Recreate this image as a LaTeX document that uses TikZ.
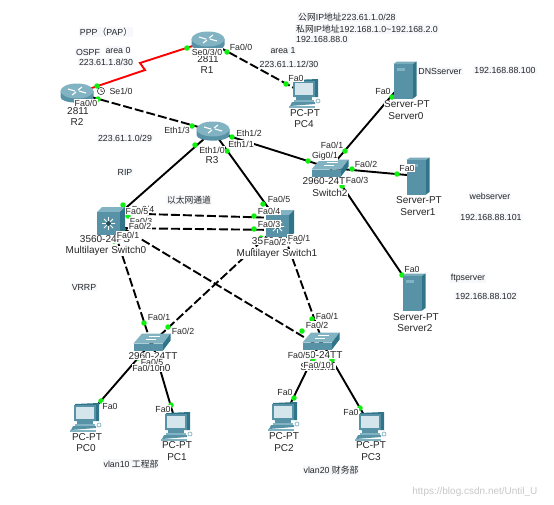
\documentclass[tikz,border=0pt]{standalone}
\usepackage{fontspec}
\setmainfont{Liberation Sans}
\newfontfamily\cjk{Noto Sans CJK SC}
\definecolor{tealA}{HTML}{5892A6}
\definecolor{tealB}{HTML}{2F7488}
\definecolor{tealC}{HTML}{82B3C2}
\definecolor{screenC}{HTML}{D5E5EC}
\definecolor{noteBg}{HTML}{F6F8FC}
\definecolor{portG}{HTML}{10F010}
\tikzset{
  link/.style={draw=black,line width=1.9pt},
  dashlink/.style={draw=black,line width=1.9pt,dash pattern=on 9pt off 3pt},
  redlink/.style={draw=red,line width=1.9pt},
  portdot/.style={circle,fill=portG,minimum size=5.5pt,inner sep=0pt},
  portlabel/.style={font=\fontsize{8.8}{9}\selectfont,fill=white,inner sep=0.5pt,text=black!85},
  devlabel/.style={font=\fontsize{10}{11}\selectfont,inner sep=0.3pt,fill=white,text=black!85},
  note/.style={font=\fontsize{8.8}{10}\selectfont,fill=noteBg,inner sep=1pt,text=black!85},
  router/.pic={
    \fill[tealA] (-16.5,-2) -- (-16.5,4) .. controls (-16.5,11.5) and (16.5,11.5) .. (16.5,4) -- (16.5,-2) -- cycle;
    \fill[tealC] (0,-2) ellipse (16.5 and 7.5);
    \draw[white,line width=1.1pt] (-9,-4) -- (-2,-2) (9,0) -- (2,-2) (-5,2) -- (-1,-1) (5,-6) -- (1,-3);
  },
  switchicon/.pic={
    \fill[tealC] (-18.5,1.5) -- (-10,-8.5) -- (18.5,-8.5) -- (11,1.5) -- cycle;
    \fill[tealA] (-18.5,1.5) rectangle (11,8.5);
    \fill[tealB] (11,1.5) -- (18.5,-8.5) -- (18.5,-1.5) -- (11,8.5) -- cycle;
    \draw[white,line width=0.6pt] (-6,-3) -- (4,-3) (-3,-5.5) -- (8,-5.5);
  },
  mlswitch/.pic={
    \fill[tealC] (-14,-9) -- (-9,-14) -- (14,-14) -- (9,-9) -- cycle;
    \fill[tealA] (-14,-9) rectangle (9,14);
    \fill[tealB] (9,-9) -- (14,-14) -- (14,9) -- (9,14) -- cycle;
    \draw[white,line width=0.8pt] (-9,2.5) -- (4,2.5) (-2.5,-4) -- (-2.5,9) (-7,-2) -- (2,7) (-7,7) -- (2,-2);
    \fill[tealB!70!black] (-2.5,2.5) circle (2.4);
  },
  pcicon/.pic={
    \fill[tealB] (-11,-14) -- (13,-15) -- (13,3) -- (-11,3) -- cycle;
    \fill[tealA] (-12,-13) rectangle (10,3);
    \fill[screenC] (-10,-11) rectangle (8,1);
    \fill[tealA] (-9,3) rectangle (7,6);
    \fill[tealC] (-11,6) -- (9,6) -- (9,8) -- (-11,8) -- cycle;
    \fill[tealA] (-13,8) -- (10,8) -- (10,10) -- (-15,12) -- cycle;
    \fill[tealC] (-16,12) -- (10,12) -- (10,13.5) -- (-16,13.5) -- cycle;
    \draw[tealC,line width=0.7pt] (13,7) circle (2);
  },
  servericon/.pic={
    \fill[tealC!80!tealA] (-11.5,-16) -- (-8,-18.5) -- (11.5,-18.5) -- (8,-16) -- cycle;
    \fill[tealA] (-11.5,-16) rectangle (8,18.5);
    \fill[tealB] (8,-16) -- (11.5,-18.5) -- (11.5,16) -- (8,18.5) -- cycle;
    \fill[tealC] (-8,-12) rectangle (0,-9);
  },
}
\begin{document}
\begin{tikzpicture}[x=1pt,y=-1pt]
\useasboundingbox (0,0) rectangle (554,504);
% device anchors
\coordinate (R1) at (208,41);
\coordinate (R2) at (77,93);
\coordinate (R3) at (213,131);
\coordinate (PC4) at (305,94);
\coordinate (Sw2) at (330,168);
\coordinate (Srv0) at (405,80);
\coordinate (Srv1) at (418,176);
\coordinate (Srv2) at (414,292);
\coordinate (MS0) at (111,221);
\coordinate (MS1) at (280,224);
\coordinate (Sw0) at (152,342);
\coordinate (Sw1) at (321,341);
\coordinate (PC0) at (86,418);
\coordinate (PC1) at (177,427);
\coordinate (PC2) at (284,417);
\coordinate (PC3) at (371,427);
\coordinate (kinkA) at (140,63);
\coordinate (kinkB) at (145,70);
\coordinate (MS0a) at (111,213);
\coordinate (MS1a) at (280,218);
\coordinate (MS0b) at (111,228);
\coordinate (MS1b) at (280,230);
\coordinate (Sw0a) at (150,340);
\coordinate (Sw0b) at (155,340);
\coordinate (Sw1a) at (317,345);
\coordinate (Sw1b) at (322,340);
% connectors
\draw[redlink] (R1) -- (kinkA) -- (kinkB) -- (R2);
\draw[dashlink] (R1) -- (PC4);
\draw[dashlink] (R2) -- (R3);
\draw[link] (R3) -- (Sw2);
\draw[link] (R3) -- (MS0);
\draw[link] (R3) -- (MS1);
\draw[link] (Sw2) -- (Srv0);
\draw[link] (Sw2) -- (Srv1);
\draw[link] (Sw2) -- (Srv2);
\draw[dashlink] (MS0a) -- (MS1a);
\draw[dashlink] (MS0b) -- (MS1b);
\draw[dashlink] (MS0) -- (Sw0a);
\draw[dashlink] (MS0) -- (Sw1a);
\draw[dashlink] (MS1) -- (Sw0b);
\draw[dashlink] (MS1) -- (Sw1b);
\draw[link] (Sw0) -- (PC0);
\draw[link] (Sw0) -- (PC1);
\draw[link] (Sw1) -- (PC2);
\draw[link] (Sw1) -- (PC3);
% port lights
\foreach \i/\x/\y in {1/187/48,2/97/86,3/227/52,4/286/84,5/98/99,6/192/126,7/232/137,8/308/161,
  9/195/145,10/123/205,11/227/151,12/263/204,13/345/151,14/392/97,15/352/169,16/397/174,
  17/342/186,18/402/275,19/128/216,20/254/216,21/123/229,22/254/229,23/114/241,24/144/323,
  25/261/238,26/168/327,27/302/331,28/312/319,29/138/358,30/101/401,31/171/405,32/313/359,
  33/294/398,34/332/360,35/360/408}
  \node[portdot] (p\i) at (\x,\y) {};
% devices
\pic at (R1) {router};
\pic at (R2) {router};
\pic at (R3) {router};
\pic at (Sw2) {switchicon};
\pic at (Sw0) {switchicon};
\pic at (Sw1) {switchicon};
\pic at (MS0) {mlswitch};
\pic at (MS1) {mlswitch};
\pic at (PC4) {pcicon};
\pic at (PC0) {pcicon};
\pic at (PC1) {pcicon};
\pic at (PC2) {pcicon};
\pic at (PC3) {pcicon};
\pic at (Srv0) {servericon};
\pic at (Srv1) {servericon};
\pic at (Srv2) {servericon};
% clock
\draw[black!80,line width=0.6pt,fill=white] (101,91) circle (3.6);
\draw[black!80,line width=0.6pt] (101,88.8) -- (101,91) -- (102.8,91.8);
% device names
\node[devlabel] (nR1a) at (208,59) {2811};
\node[devlabel] (nR1) at (207,70) {R1};
\node[devlabel] (nR2a) at (78,111) {2811};
\node[devlabel] (nR2) at (77,122) {R2};
\node[devlabel] (nR3) at (212,160) {R3};
\node[devlabel] (nPC4a) at (305,113) {PC-PT};
\node[devlabel] (nPC4) at (304,124) {PC4};
\node[devlabel] (nSw2a) at (327,181) {2960-24TT};
\node[devlabel] (nSw2) at (330,193) {Switch2};
\node[devlabel] (nS0a) at (407,104) {Server-PT};
\node[devlabel] (nS0) at (406,116) {Server0};
\node[devlabel] (nS1a) at (419,200) {Server-PT};
\node[devlabel] (nS1) at (418,212) {Server1};
\node[devlabel] (nS2a) at (416,317) {Server-PT};
\node[devlabel] (nS2) at (415,328) {Server2};
\node[devlabel] (nM0a) at (105,239) {3560-24PS};
\node[devlabel] (nM0) at (106,251) {Multilayer Switch0};
\node[devlabel] (nM1a) at (277,241) {3560-24PS};
\node[devlabel] (nM1) at (277,254) {Multilayer Switch1};
\node[devlabel] (nW0a) at (153,356) {2960-24TT};
\node[devlabel] (nW0) at (153,368) {Switch0};
\node[devlabel] (nW1a) at (318,355) {2960-24TT};
\node[devlabel] (nW1) at (318,367) {Switch1};
\node[devlabel] (nP0a) at (87,437) {PC-PT};
\node[devlabel] (nP0) at (86,448) {PC0};
\node[devlabel] (nP1a) at (177,445) {PC-PT};
\node[devlabel] (nP1) at (177,457) {PC1};
\node[devlabel] (nP2a) at (284,436) {PC-PT};
\node[devlabel] (nP2) at (284,448) {PC2};
\node[devlabel] (nP3a) at (371,445) {PC-PT};
\node[devlabel] (nP3) at (371,457) {PC3};
% port labels
\node[portlabel] (l1) at (207,52) {Se0/3/0};
\node[portlabel] (l2) at (241,47) {Fa0/0};
\node[portlabel] (l3) at (296,78) {Fa0};
\node[portlabel] (l4) at (86,103) {Fa0/0};
\node[portlabel] (l5) at (121,91) {Se1/0};
\node[portlabel] (l6) at (177,130) {Eth1/3};
\node[portlabel] (l7) at (249,133) {Eth1/2};
\node[portlabel] (l8) at (241,144) {Eth1/1};
\node[portlabel] (l9) at (212,150) {Eth1/0};
\node[portlabel] (l10) at (332,145) {Fa0/1};
\node[portlabel] (l11) at (325,156) {Gig0/1};
\node[portlabel] (l12) at (366,164) {Fa0/2};
\node[portlabel] (l13) at (357,180) {Fa0/3};
\node[portlabel] (l14) at (383,91) {Fa0};
\node[portlabel] (l15) at (407,168) {Fa0};
\node[portlabel] (l16) at (412,269) {Fa0};
\node[portlabel] (l17) at (279,199) {Fa0/5};
\node[portlabel] (l18) at (269,211) {Fa0/4};
\node[portlabel] (l19) at (269,224) {Fa0/3};
\node[portlabel] (l20) at (275,242) {Fa0/2};
\node[portlabel] (l21) at (299,238) {Fa0/1};
\node[portlabel] (l22) at (143,209) {Fa0/4};
\node[portlabel] (l23) at (137,211) {Fa0/5};
\node[portlabel] (l24) at (141,221) {Fa0/3};
\node[portlabel] (l25) at (140,226) {Fa0/2};
\node[portlabel] (l26) at (128,235) {Fa0/1};
\node[portlabel] (l27) at (159,317) {Fa0/1};
\node[portlabel] (l28) at (183,331) {Fa0/2};
\node[portlabel] (l29) at (327,316) {Fa0/1};
\node[portlabel] (l30) at (317,325) {Fa0/2};
\node[portlabel] (l31) at (152,362) {Fa0/5};
\node[portlabel] (l32) at (146,368) {Fa0/10};
\node[portlabel] (l33) at (299,355) {Fa0/5};
\node[portlabel] (l34) at (317,365) {Fa0/10};
\node[portlabel] (l35) at (110,406) {Fa0};
\node[portlabel] (l36) at (163,409) {Fa0};
\node[portlabel] (l37) at (285,392) {Fa0};
\node[portlabel] (l38) at (351,412) {Fa0};
% notes
\node[note] (t1) at (106,32) {PPP{\cjk （}PAP{\cjk ）}};
\node[note] (t2) at (88,52) {OSPF};
\node[note] (t3) at (118,50) {area 0};
\node[note] (t4) at (106,62) {223.61.1.8/30};
\node[note] (t5) at (283,51) {area 1};
\node[note] (t6) at (289,64) {223.61.1.12/30};
\node[note] (t7) at (125,138) {223.61.1.0/29};
\node[note,anchor=west] (t8) at (297,17) {{\cjk 公网}IP{\cjk 地址}223.61.1.0/28};
\node[note,anchor=west] (t9) at (295,29) {{\cjk 私网}IP{\cjk 地址}192.168.1.0\textasciitilde192.168.2.0};
\node[note,anchor=west] (t10) at (295,39) {192.168.88.0};
\node[note] (t11) at (125,172) {RIP};
\node[note] (t12) at (189,200) {\cjk 以太网通道};
\node[note] (t13) at (84,287) {VRRP};
\node[note] (t14) at (440,71) {DNSserver};
\node[note] (t15) at (505,70) {192.168.88.100};
\node[note] (t16) at (490,196) {webserver};
\node[note] (t17) at (491,217) {192.168.88.101};
\node[note] (t18) at (468,278) {ftpserver};
\node[note] (t19) at (486,296) {192.168.88.102};
\node[note] (t20) at (131,464) {vlan10 {\cjk 工程部}};
\node[note] (t21) at (331,470) {vlan20 {\cjk 财务部}};
\node[font=\fontsize{10}{11}\selectfont,text=black!22,anchor=east] (wm) at (541,492) {https://blog.csdn.net/Until\_U};
\end{tikzpicture}
\end{document}
